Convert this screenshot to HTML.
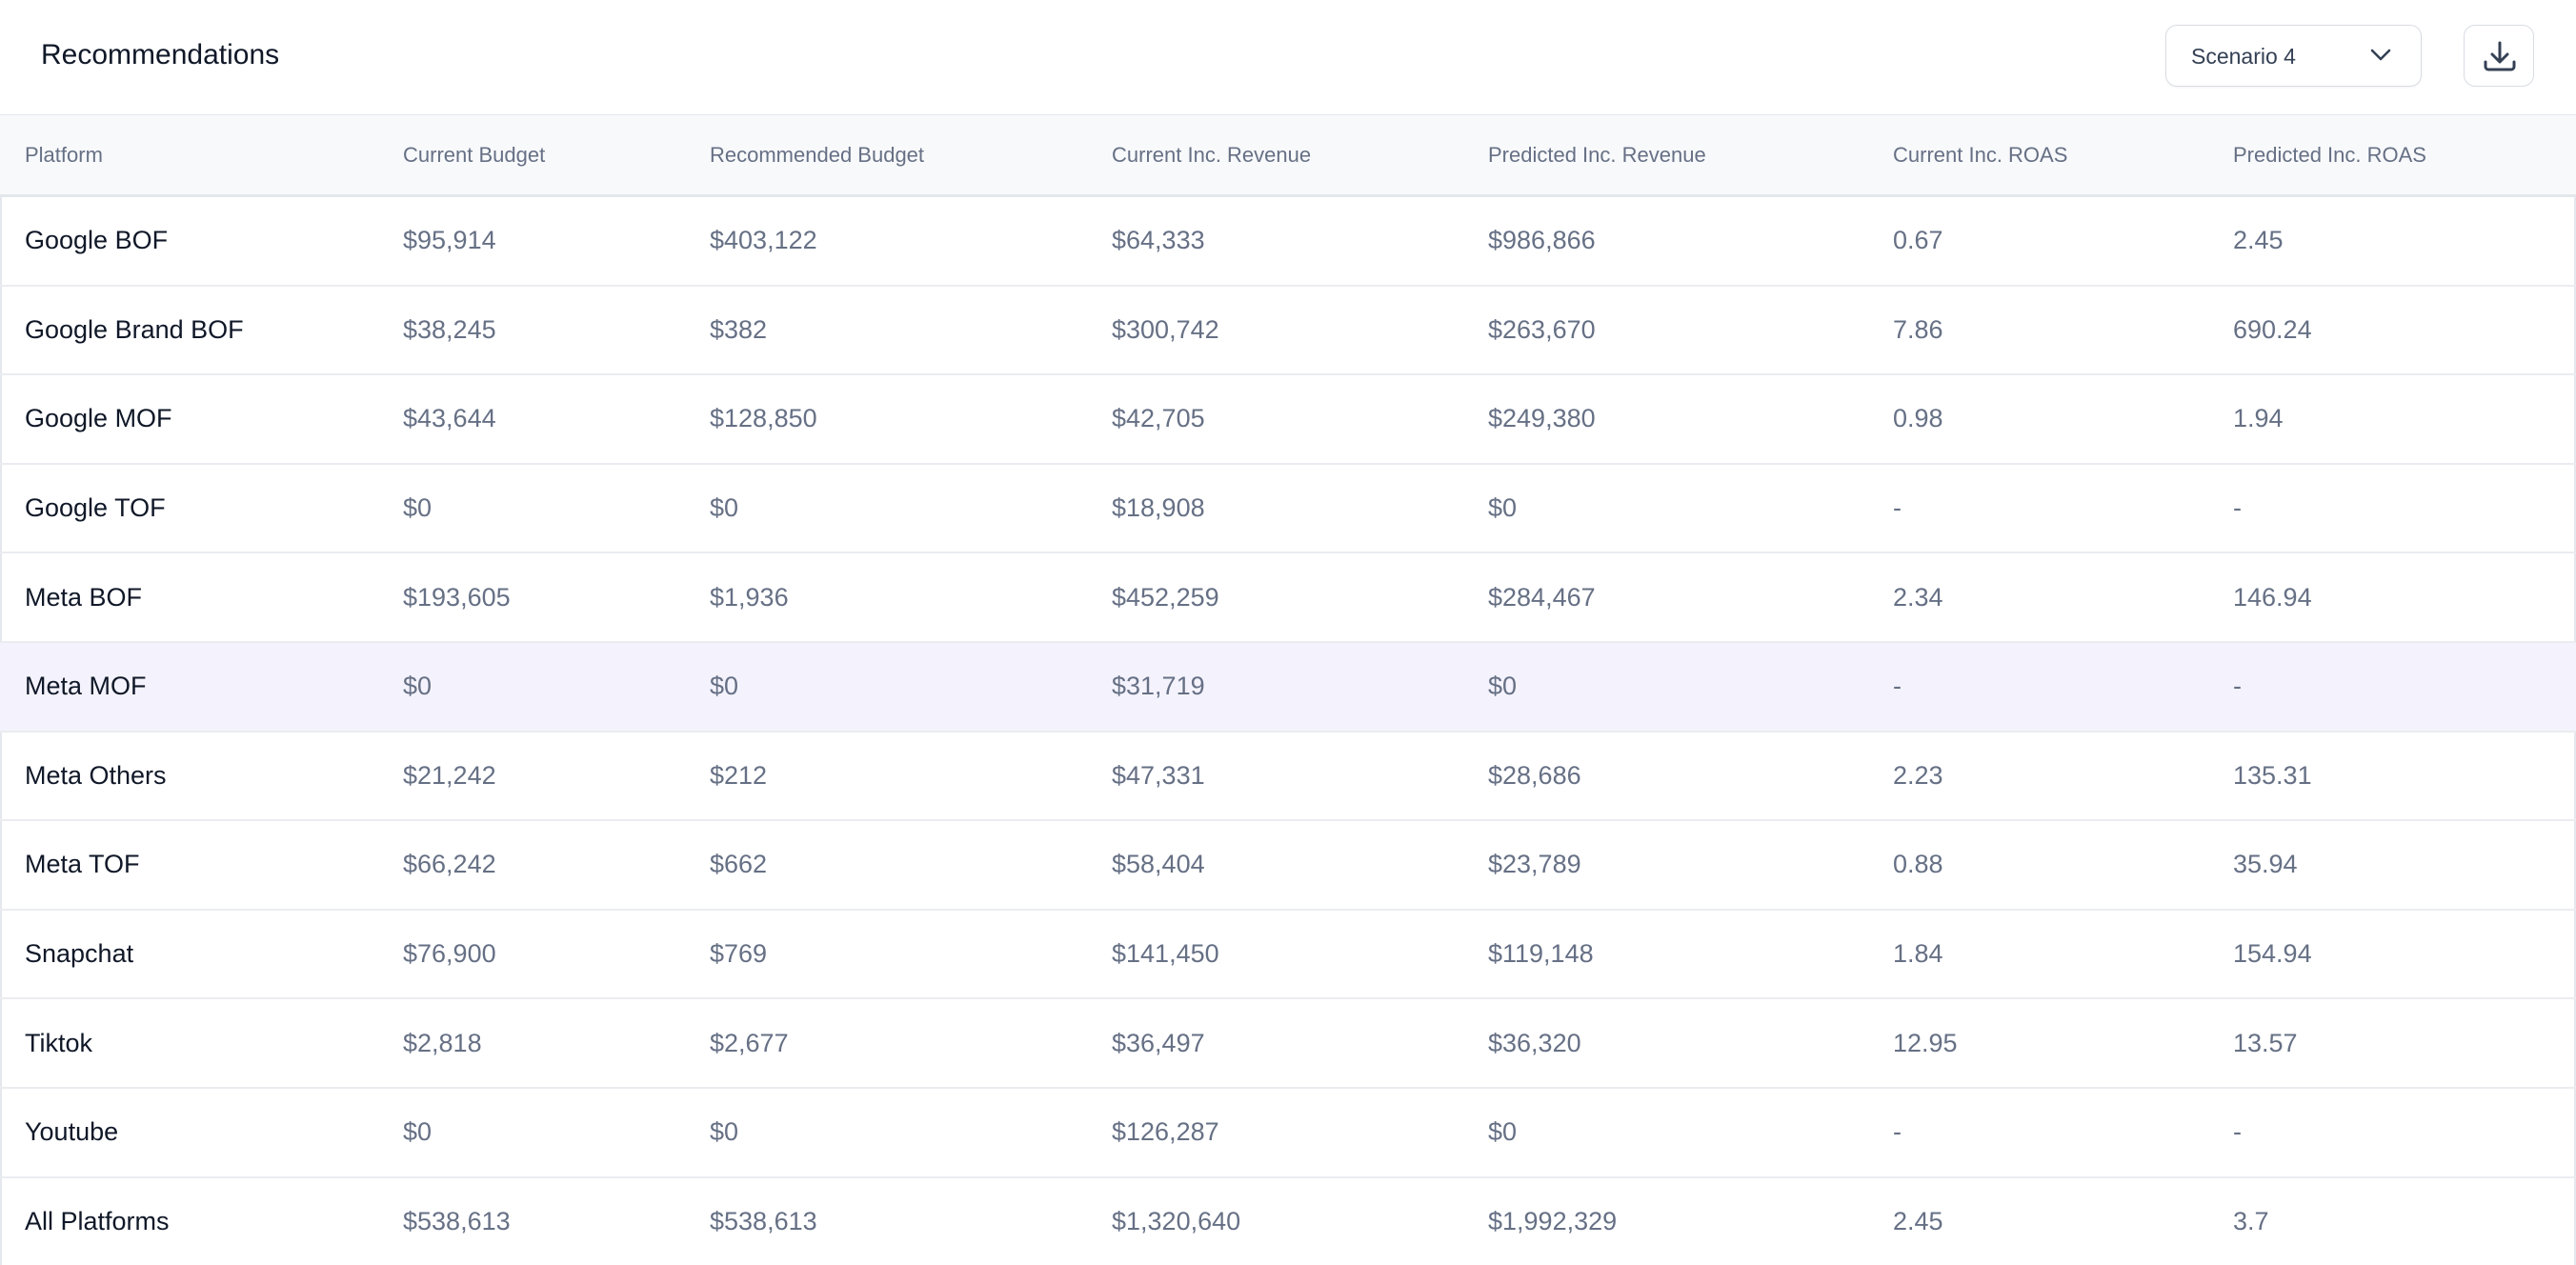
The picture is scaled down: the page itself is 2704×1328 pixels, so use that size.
<!DOCTYPE html>
<html style="width:2704px;height:1328px;overflow:hidden"><head><meta charset="utf-8"><style>
*{margin:0;padding:0;box-sizing:border-box}
body{width:2704px;height:1328px;overflow:hidden;background:#fff;font-family:"Liberation Sans",Arial,sans-serif;position:relative}
.title{position:absolute;left:43px;top:40px;font-size:30px;color:#101828;line-height:36px}
.dd{position:absolute;left:2273px;top:26px;width:269px;height:65px;border:1.5px solid #d9dce3;border-radius:12px;box-shadow:0 1px 2px rgba(16,24,40,.05)}
.dd span{position:absolute;left:26px;top:19px;font-size:23px;color:#344054}
.dd svg{position:absolute;left:213px;top:22px}
.dl{position:absolute;left:2586px;top:26px;width:74px;height:65px;border:1.5px solid #d9dce3;border-radius:12px}
.dl svg{position:absolute;left:18px;top:14px}
.tbl{position:absolute;left:0;top:120px;width:2704px;height:1208px;border-left:2px solid #e4e7ec;border-right:2px solid #e4e7ec;border-top:2px solid #e4e7ec}
.row{position:absolute;left:0;width:2704px;border-bottom:2px solid #eaecf0}
.hdr{top:121px;height:86px;background:#f8f9fb;border-bottom:3px solid #e4e7ec}
.row div{position:absolute;top:0;height:100%;display:flex;align-items:center;white-space:nowrap}
.hdr div{font-size:22px;color:#667085}
.body div{font-size:27px;color:#667085}
.body div.c0{color:#101828}
.c0{left:26px}.c1{left:423px}.c2{left:745px}.c3{left:1167px}.c4{left:1562px}.c5{left:1987px}.c6{left:2344px}
</style></head><body>
<div class="title">Recommendations</div>
<div class="dd"><span>Scenario 4</span><svg width="24" height="16" viewBox="0 0 24 16"><path d="M3 4l9 9 9-9" fill="none" stroke="#344054" stroke-width="2.6" stroke-linecap="round" stroke-linejoin="round"/></svg></div>
<div class="dl"><svg width="38" height="38" viewBox="0 0 38 38"><path d="M19 4v20M11 16l8 8 8-8M4 24v5a3 3 0 0 0 3 3h24a3 3 0 0 0 3-3v-5" fill="none" stroke="#344054" stroke-width="3" stroke-linecap="round" stroke-linejoin="round"/></svg></div>
<div class="tbl"></div>
<div class="row hdr"><div class="c0">Platform</div><div class="c1">Current Budget</div><div class="c2">Recommended Budget</div><div class="c3">Current Inc. Revenue</div><div class="c4">Predicted Inc. Revenue</div><div class="c5">Current Inc. ROAS</div><div class="c6">Predicted Inc. ROAS</div></div>
<div class="row body" style="top:207px;height:93.6px"><div class="c0">Google BOF</div><div class="c1">$95,914</div><div class="c2">$403,122</div><div class="c3">$64,333</div><div class="c4">$986,866</div><div class="c5">0.67</div><div class="c6">2.45</div></div>
<div class="row body" style="top:300.6px;height:93.6px"><div class="c0">Google Brand BOF</div><div class="c1">$38,245</div><div class="c2">$382</div><div class="c3">$300,742</div><div class="c4">$263,670</div><div class="c5">7.86</div><div class="c6">690.24</div></div>
<div class="row body" style="top:394.2px;height:93.6px"><div class="c0">Google MOF</div><div class="c1">$43,644</div><div class="c2">$128,850</div><div class="c3">$42,705</div><div class="c4">$249,380</div><div class="c5">0.98</div><div class="c6">1.94</div></div>
<div class="row body" style="top:487.8px;height:93.6px"><div class="c0">Google TOF</div><div class="c1">$0</div><div class="c2">$0</div><div class="c3">$18,908</div><div class="c4">$0</div><div class="c5">-</div><div class="c6">-</div></div>
<div class="row body" style="top:581.4px;height:93.6px"><div class="c0">Meta BOF</div><div class="c1">$193,605</div><div class="c2">$1,936</div><div class="c3">$452,259</div><div class="c4">$284,467</div><div class="c5">2.34</div><div class="c6">146.94</div></div>
<div class="row body" style="top:675px;height:93.6px;background:#f4f3fd"><div class="c0">Meta MOF</div><div class="c1">$0</div><div class="c2">$0</div><div class="c3">$31,719</div><div class="c4">$0</div><div class="c5">-</div><div class="c6">-</div></div>
<div class="row body" style="top:768.6px;height:93.6px"><div class="c0">Meta Others</div><div class="c1">$21,242</div><div class="c2">$212</div><div class="c3">$47,331</div><div class="c4">$28,686</div><div class="c5">2.23</div><div class="c6">135.31</div></div>
<div class="row body" style="top:862.2px;height:93.6px"><div class="c0">Meta TOF</div><div class="c1">$66,242</div><div class="c2">$662</div><div class="c3">$58,404</div><div class="c4">$23,789</div><div class="c5">0.88</div><div class="c6">35.94</div></div>
<div class="row body" style="top:955.8px;height:93.6px"><div class="c0">Snapchat</div><div class="c1">$76,900</div><div class="c2">$769</div><div class="c3">$141,450</div><div class="c4">$119,148</div><div class="c5">1.84</div><div class="c6">154.94</div></div>
<div class="row body" style="top:1049.4px;height:93.6px"><div class="c0">Tiktok</div><div class="c1">$2,818</div><div class="c2">$2,677</div><div class="c3">$36,497</div><div class="c4">$36,320</div><div class="c5">12.95</div><div class="c6">13.57</div></div>
<div class="row body" style="top:1143px;height:93.6px"><div class="c0">Youtube</div><div class="c1">$0</div><div class="c2">$0</div><div class="c3">$126,287</div><div class="c4">$0</div><div class="c5">-</div><div class="c6">-</div></div>
<div class="row body" style="top:1236.6px;height:91.4px;border-bottom:none"><div class="c0">All Platforms</div><div class="c1">$538,613</div><div class="c2">$538,613</div><div class="c3">$1,320,640</div><div class="c4">$1,992,329</div><div class="c5">2.45</div><div class="c6">3.7</div></div>
</body></html>
